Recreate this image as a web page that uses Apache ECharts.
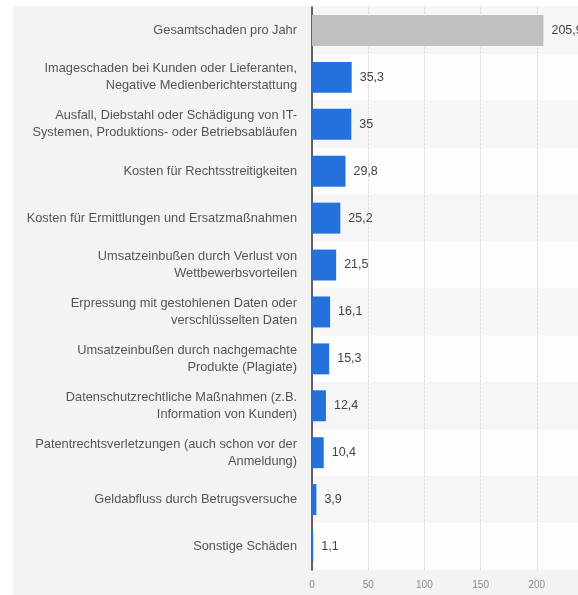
<!DOCTYPE html>
<html><head><meta charset="utf-8">
<script src="https://cdn.jsdelivr.net/npm/echarts@6/dist/echarts.min.js"></script>
<style>html,body{margin:0;padding:0;background:#fff}#c{width:578px;height:595px}</style>
</head><body><div id="c"></div>
<script>
const categories = [
  "Gesamtschaden pro Jahr",
  "Imageschaden bei Kunden oder Lieferanten,\nNegative Medienberichterstattung",
  "Ausfall, Diebstahl oder Schädigung von IT-\nSystemen, Produktions- oder Betriebsabläufen",
  "Kosten für Rechtsstreitigkeiten",
  "Kosten für Ermittlungen und Ersatzmaßnahmen",
  "Umsatzeinbußen durch Verlust von\nWettbewerbsvorteilen",
  "Erpressung mit gestohlenen Daten oder\nverschlüsselten Daten",
  "Umsatzeinbußen durch nachgemachte\nProdukte (Plagiate)",
  "Datenschutzrechtliche Maßnahmen (z.B.\nInformation von Kunden)",
  "Patentrechtsverletzungen (auch schon vor der\nAnmeldung)",
  "Geldabfluss durch Betrugsversuche",
  "Sonstige Schäden"
];
const values = [205.9, 35.3, 35, 29.8, 25.2, 21.5, 16.1, 15.3, 12.4, 10.4, 3.9, 1.1];
const xTicks = [0, 50, 100, 150, 200, 250];

const chart = echarts.init(document.getElementById('c'), null, {renderer: 'canvas'});
const font = '"Liberation Sans", Arial, sans-serif';
chart.setOption({
  animation: false,
  textStyle: {fontFamily: font},
  graphic: [{type: 'rect', z: -10, silent: true, shape: {x: 13, y: 6, width: 565, height: 589}, style: {fill: '#f3f3f3'}}],
  grid: {left: 312, top: 7, height: 563, width: 281, containLabel: false, outerBoundsMode: 'none'},
  xAxis: {
    type: 'value', min: xTicks[0], max: xTicks[xTicks.length - 1], interval: 50,
    axisLine: {show: false}, axisTick: {show: false},
    axisLabel: {color: '#888', fontSize: 10, margin: 10, fontFamily: font},
    splitLine: {show: true, lineStyle: {color: '#dedede', type: [3, 1], width: 1}}
  },
  yAxis: {
    type: 'category', data: categories, inverse: true,
    axisLine: {show: true, lineStyle: {color: '#333', width: 1.5}},
    axisTick: {show: false},
    axisLabel: {color: '#555', fontSize: 12.8, lineHeight: 17, margin: 15, align: 'right', fontFamily: font},
    splitArea: {show: true, areaStyle: {color: ['#f6f6f6', '#fdfdfd']}},
    splitLine: {show: false}
  },
  series: [{
    type: 'bar', barWidth: '66%',
    data: values.map((v, i) => ({value: v, itemStyle: {color: i === 0 ? '#c0c0c0' : '#2471db'}})),
    label: {show: true, position: 'right', distance: 8, color: '#444', fontSize: 12.5, fontFamily: font,
      formatter: p => String(p.value).replace('.', ',')}
  }]
});
</script></body></html>
